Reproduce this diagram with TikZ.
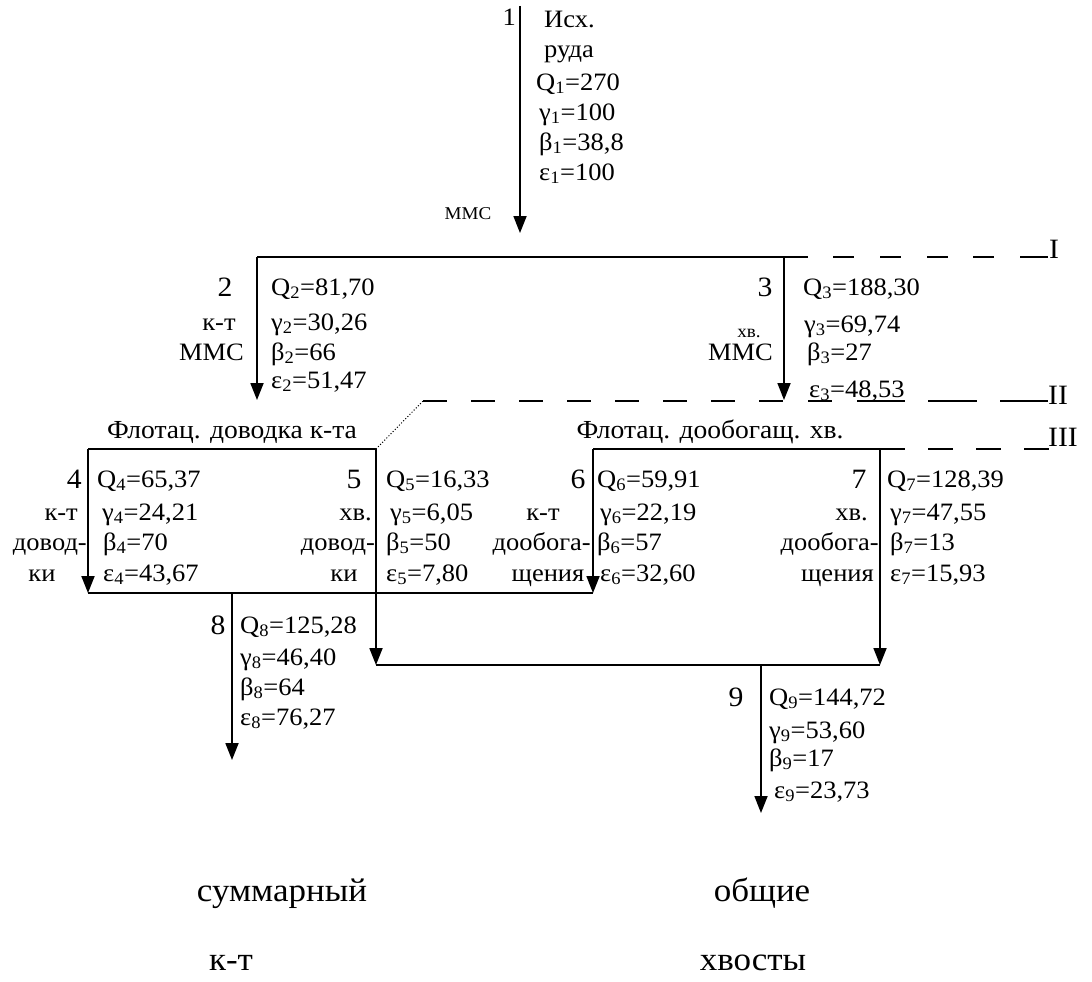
\documentclass[tikz,border=0pt]{standalone}
\usepackage{fontspec}
\setmainfont{Liberation Serif}[FakeStretch=1.06]
\usetikzlibrary{arrows.meta}
\newcommand{\fsz}[1]{\fontsize{#1}{#1}\selectfont}
\newcommand{\sub}[1]{\textsubscript{#1}}
\begin{document}
\begin{tikzpicture}[x=1pt,y=-1pt,
  ln/.style={line width=1.8pt},
  flow/.style={line width=1.8pt,-{Triangle[length=17pt,width=13pt]}},
  dsh/.style={line width=1.8pt},
  t/.style={inner sep=0pt,font=\fsz{25}},
  sm/.style={inner sep=0pt,font=\fsz{18}},
  num/.style={inner sep=0pt,font=\fsz{28},anchor=base},
  lvl/.style={inner sep=0pt,font=\fsz{28},anchor=base west},
  hd/.style={inner sep=0pt,font=\fsz{26},anchor=base},
  big/.style={inner sep=0pt,font=\fsz{33}},
  lw/.style={t,anchor=base west},
  le/.style={t,anchor=base east},
  lc/.style={t,anchor=base}]
\useasboundingbox (0,0) rectangle (1092,982);
% ---------- coordinates ----------
\coordinate (p1s) at (520,6);   \coordinate (p1e) at (520,233);
\coordinate (IL) at (257,257);  \coordinate (IR) at (808,257); \coordinate (I3) at (784,257);
\coordinate (p2e) at (257,400); \coordinate (p3e) at (784,400);
\coordinate (b4tl) at (88,449); \coordinate (b4tr) at (376,449);
\coordinate (b4bl) at (88,593); \coordinate (b6bl) at (593,593);
\coordinate (b6tl) at (593,449); \coordinate (b6tr) at (905,449); \coordinate (b7t) at (880,449);
\coordinate (p5e) at (376,665); \coordinate (p7e) at (880,665);
\coordinate (p8s) at (232,593); \coordinate (p8e) at (232,760);
\coordinate (p9s) at (761,665); \coordinate (p9e) at (761,813);
\coordinate (IIs) at (423,401); \coordinate (IIa) at (784,401);
% ---------- lines ----------
\draw[flow] (p1s) -- (p1e);
\draw[ln] (IL) -- (IR);
\draw[flow] (IL) -- (p2e);
\draw[flow] (I3) -- (p3e);
\foreach \a/\b in {833/854,880/901,927/948,973/994,1020/1048}
  \draw[dsh] (\a,257) -- (\b,257);
\draw[dsh,dash pattern=on 24pt off 24pt] (IIs) -- (IIa);
\foreach \a/\b in {808/832,857/905,928/977,1000/1048}
  \draw[dsh] (\a,401) -- (\b,401);
\draw[line width=1pt,dash pattern=on 1pt off 2pt] (b4tr) -- (IIs);
\draw[ln] (b4tl) -- (b4tr);
\draw[flow] (b4tl) -- (b4bl);
\draw[ln] (b4bl) -- (b6bl);
\draw[flow] (b4tr) -- (p5e);
\draw[flow] (b6tl) -- (b6bl);
\draw[ln] (b6tl) -- (b6tr);
\foreach \a/\b in {928/953,976/1001,1024/1049}
  \draw[dsh] (\a,449) -- (\b,449);
\draw[flow] (b7t) -- (p7e);
\draw[ln] (p5e) -- (p7e);
\draw[flow] (p8s) -- (p8e);
\draw[flow] (p9s) -- (p9e);
% ---------- level labels ----------
\node[lvl] (lI) at (1049,258) {I};
\node[lvl] (lII) at (1048,404) {II};
\node[lvl] (lIII) at (1048,446) {III};
% ---------- stream 1 ----------
\node[le] (n1) at (516,26) {1};
\node[lw] (r1a) at (544,28) {Исх.};
\node[lw] (r1b) at (544,58) {руда};
\node[lw] (q1) at (536,90) {Q\sub{1}=270};
\node[lw] (g1) at (539,120) {γ\sub{1}=100};
\node[lw] (be1) at (539,150) {β\sub{1}=38,8};
\node[lw] (e1) at (539,180) {ε\sub{1}=100};
\node[sm,anchor=base] (mms1) at (468,219) {ММС};
% ---------- stream 2 ----------
\node[num] (n2) at (225,296) {2};
\node[lc] (k2) at (219,330) {к-т};
\node[le] (m2) at (244,360) {ММС};
\node[lw] (q2) at (271,295) {Q\sub{2}=81,70};
\node[lw] (g2) at (271,330) {γ\sub{2}=30,26};
\node[lw] (be2) at (271,360) {β\sub{2}=66};
\node[lw] (e2) at (271,388) {ε\sub{2}=51,47};
% ---------- stream 3 ----------
\node[num] (n3) at (765,296) {3};
\node[sm,anchor=base] (h3) at (749,337) {хв.};
\node[le] (m3) at (773,360) {ММС};
\node[lw] (q3) at (803,295) {Q\sub{3}=188,30};
\node[lw] (g3) at (804,332) {γ\sub{3}=69,74};
\node[lw] (be3) at (807,360) {β\sub{3}=27};
\node[lw] (e3) at (809,397) {ε\sub{3}=48,53};
% ---------- headings ----------
\node[hd] (hd1) at (232,438) {Флотац. доводка к-та};
\node[hd] (hd2) at (710,438) {Флотац. дообогащ. хв.};
% ---------- stream 4 ----------
\node[num,anchor=base east] (n4) at (82,488) {4};
\node[le] (k4) at (78,520) {к-т};
\node[le] (d4) at (87,550) {довод-};
\node[lc] (ki4) at (42,581) {ки};
\node[lw] (q4) at (97,487) {Q\sub{4}=65,37};
\node[lw] (g4) at (102,520) {γ\sub{4}=24,21};
\node[lw] (be4) at (103,550) {β\sub{4}=70};
\node[lw] (e4) at (103,581) {ε\sub{4}=43,67};
% ---------- stream 5 ----------
\node[num] (n5) at (354,488) {5};
\node[le] (h5) at (372,520) {хв.};
\node[le] (d5) at (375,550) {довод-};
\node[lc] (ki5) at (344,581) {ки};
\node[lw] (q5) at (386,487) {Q\sub{5}=16,33};
\node[lw] (g5) at (390,520) {γ\sub{5}=6,05};
\node[lw] (be5) at (386,550) {β\sub{5}=50};
\node[lw] (e5) at (386,581) {ε\sub{5}=7,80};
% ---------- stream 6 ----------
\node[num] (n6) at (578,488) {6};
\node[lc] (k6) at (543,520) {к-т};
\node[le] (d6) at (591,550) {дообога-};
\node[lc] (sh6) at (548,581) {щения};
\node[lw] (q6) at (597,487) {Q\sub{6}=59,91};
\node[lw] (g6) at (600,520) {γ\sub{6}=22,19};
\node[lw] (be6) at (597,550) {β\sub{6}=57};
\node[lw] (e6) at (600,581) {ε\sub{6}=32,60};
% ---------- stream 7 ----------
\node[num] (n7) at (859,488) {7};
\node[le] (h7) at (868,520) {хв.};
\node[le] (d7) at (879,550) {дообога-};
\node[le] (sh7) at (874,581) {щения};
\node[lw] (q7) at (887,487) {Q\sub{7}=128,39};
\node[lw] (g7) at (890,520) {γ\sub{7}=47,55};
\node[lw] (be7) at (890,550) {β\sub{7}=13};
\node[lw] (e7) at (890,581) {ε\sub{7}=15,93};
% ---------- stream 8 ----------
\node[num] (n8) at (218,634) {8};
\node[lw] (q8) at (240,633) {Q\sub{8}=125,28};
\node[lw] (g8) at (240,665) {γ\sub{8}=46,40};
\node[lw] (be8) at (240,695) {β\sub{8}=64};
\node[lw] (e8) at (240,725) {ε\sub{8}=76,27};
% ---------- stream 9 ----------
\node[num] (n9) at (736,706) {9};
\node[lw] (q9) at (769,705) {Q\sub{9}=144,72};
\node[lw] (g9) at (769,738) {γ\sub{9}=53,60};
\node[lw] (be9) at (769,766) {β\sub{9}=17};
\node[lw] (e9) at (774,798) {ε\sub{9}=23,73};
% ---------- products ----------
\node[big,anchor=base] (s1) at (282,901) {суммарный};
\node[big,anchor=base] (s2) at (231,970) {к-т};
\node[big,anchor=base] (s3) at (762,901) {общие};
\node[big,anchor=base] (s4) at (753,970) {хвосты};
\end{tikzpicture}
\end{document}
